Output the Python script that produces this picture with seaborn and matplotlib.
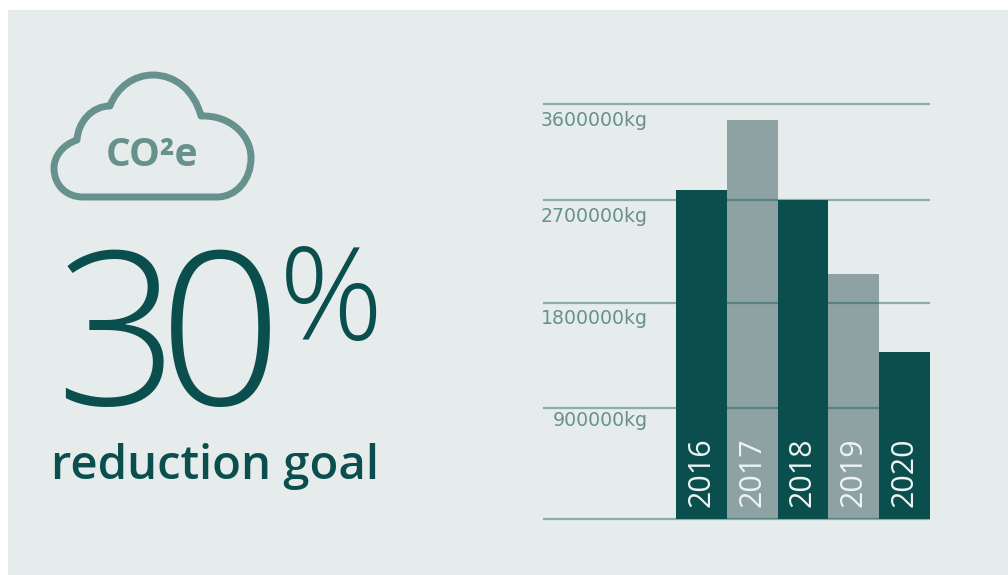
import numpy as np
import pandas as pd
import seaborn as sns
import matplotlib
matplotlib.use("Agg")
import matplotlib.pyplot as plt
from matplotlib.path import Path
from matplotlib.patches import PathPatch, Rectangle
from matplotlib.scale import FuncScale

years = ["2016", "2017", "2018", "2019", "2020"]
emissions_kg = [2790000, 3450000, 2700000, 2050000, 1380000]
tick_values = [0, 900000, 1800000, 2700000, 3600000]
tick_labels = ["", "900000kg", "1800000kg", "2700000kg", "3600000kg"]
headline = "30"
caption = "reduction goal"
badge = "CO²e"

DARK = "#0A4F4D"
GREY = "#8FA2A3"
RULE = "#0A5A55"
TEAL = "#66918C"
PANEL = "#E6ECEC"

sns.set_theme(style="white")
plt.rcParams["font.family"] = ["Open Sans", "DejaVu Sans"]

W, H = 1008, 575
fig = plt.figure(figsize=(W / 100, H / 100), dpi=100, facecolor="white")

# Backdrop and decorative layer, addressed in pixels from the top left
bg = fig.add_axes([0, 0, 1, 1], zorder=0)
bg.set_xlim(0, W)
bg.set_ylim(H, 0)
bg.axis("off")
bg.add_patch(Rectangle((8, 10), W - 8, H - 10, facecolor=PANEL, edgecolor="none"))

cloud = [
    (Path.MOVETO, (83, 197)),
    (Path.LINETO, (217, 197)),
    (Path.CURVE4, (236, 197)), (Path.CURVE4, (251, 180)), (Path.CURVE4, (251, 158)),
    (Path.CURVE4, (251, 135)), (Path.CURVE4, (230, 115)), (Path.CURVE4, (201, 116)),
    (Path.CURVE4, (194, 90)), (Path.CURVE4, (175, 75)), (Path.CURVE4, (153, 75)),
    (Path.CURVE4, (134, 75)), (Path.CURVE4, (117, 87)), (Path.CURVE4, (110, 106)),
    (Path.CURVE4, (92, 106)), (Path.CURVE4, (78, 122)), (Path.CURVE4, (77, 140)),
    (Path.CURVE4, (62, 145)), (Path.CURVE4, (54, 157)), (Path.CURVE4, (54, 168)),
    (Path.CURVE4, (54, 185)), (Path.CURVE4, (66, 197)), (Path.CURVE4, (83, 197)),
    (Path.CLOSEPOLY, (83, 197)),
]
codes, verts = zip(*cloud)
bg.add_patch(PathPatch(Path(verts, codes), facecolor="none", edgecolor=TEAL,
                       lw=5.0, joinstyle="round"))
bg.text(152, 155, badge, color=TEAL, fontsize=28, fontweight="bold",
        ha="center", va="center")
# The headline digits are set closer than the font's default advance
for digit, x in zip(headline, (55, 159)):
    bg.text(x, 405, digit, color=DARK, fontsize=155, fontweight="light",
            ha="left", va="baseline")
bg.text(279, 340, "%", color=DARK, fontsize=93, fontweight="light",
        ha="left", va="baseline")
bg.text(51, 479, caption, color=DARK, fontsize=34, fontweight="semibold",
        ha="left", va="baseline")

# The gridlines are unevenly spaced, so the value scale is piecewise linear
grid_fraction = [0.0, 111 / 415, 216 / 415, 319 / 415, 1.0]


def to_axis(v):
    return np.interp(v, tick_values, grid_fraction)


def from_axis(f):
    return np.interp(f, grid_fraction, tick_values)


left, right, top, bottom = 543, 930, 104, 519
ax = fig.add_axes([left / W, 1 - bottom / H, (right - left) / W, (bottom - top) / H],
                  zorder=1)
ax.patch.set_alpha(0)

df = pd.DataFrame({"year": years, "kg": emissions_kg})
ax.set_yscale(FuncScale(ax.yaxis, (to_axis, from_axis)))
sns.barplot(data=df, x="year", y="kg", hue="year", legend=False, width=1.0, ax=ax,
            palette=[DARK, GREY, DARK, GREY, DARK], saturation=1, linewidth=0)
ax.set_ylim(0, tick_values[-1])
# The five bars fill the right-hand 254 px of the 387 px wide axis
ax.set_xlim(4.5 - 387 / (254 / 5), 4.5)

# Rules show through the grey bars but are hidden by the dark ones
for i, bar in enumerate(ax.patches):
    bar.set_zorder(4 if i % 2 == 0 else 1)

ax.set_xlabel("")
ax.set_ylabel("")
ax.set_xticks([])
ax.set_yticks(tick_values)
ax.set_yticklabels([])
ax.tick_params(axis="y", length=0)
for s in ax.spines.values():
    s.set_visible(False)
for v in tick_values:
    ax.axhline(v, color=RULE, lw=1.6, alpha=0.42, zorder=2, clip_on=False,
               solid_capstyle="butt")

for i, y in enumerate(years):
    ax.text(i, 12 / 415, y, transform=ax.get_xaxis_transform(), rotation=90,
            color="#EEF3F3", fontsize=22, ha="center", va="bottom", zorder=5)

# Axis captions sit just beneath their gridlines, right aligned
label_drop = [0, 13, 16, 16, 16]
for v, lab, drop in zip(tick_values, tick_labels, label_drop):
    ax.annotate(lab, xy=(648 / W, to_axis(v)),
                xycoords=("figure fraction", "axes fraction"),
                xytext=(0, -drop), textcoords="offset pixels",
                color=TEAL, fontsize=13.6, family="DejaVu Sans", ha="right", va="center")

fig.savefig("out.png", dpi=100, facecolor="white")
